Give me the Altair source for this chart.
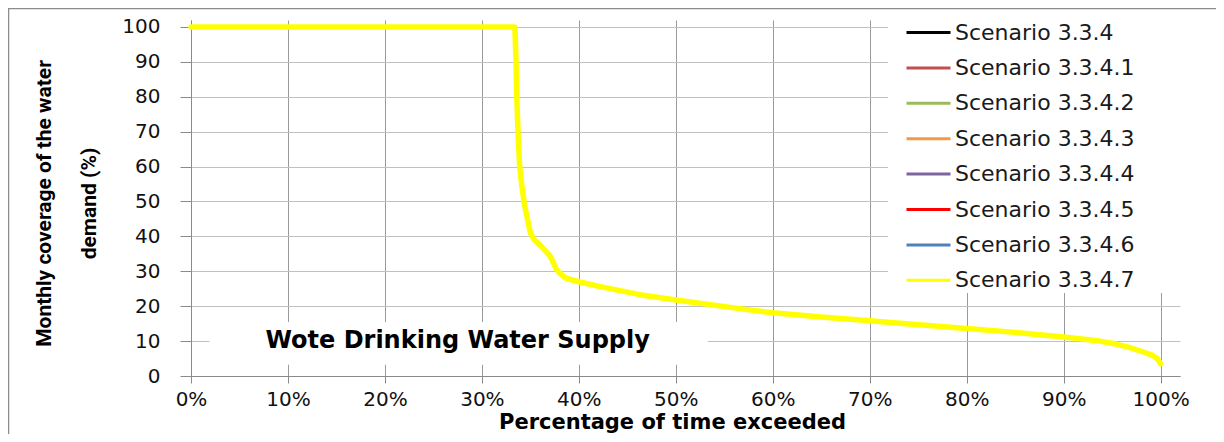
import altair as alt
import pandas as pd

SCENARIOS = [
    "Scenario 3.3.4",
    "Scenario 3.3.4.1",
    "Scenario 3.3.4.2",
    "Scenario 3.3.4.3",
    "Scenario 3.3.4.4",
    "Scenario 3.3.4.5",
    "Scenario 3.3.4.6",
    "Scenario 3.3.4.7",
]
COLORS = ["#000000", "#C0504D", "#9BBB59", "#F79646", "#8064A2", "#FF0000", "#4F81BD", "#FFFF00"]
TOP_SCENARIO = "Scenario 3.3.4.7"

# percentage of time exceeded (%) and monthly coverage (%);
# all scenarios lie on top of each other
PCT = [0, 33.4, 33.5, 33.6, 33.75, 33.9, 34.1, 34.4, 34.7, 35.0, 35.4, 36.0, 36.5,
       37.0, 37.3, 37.6, 38.0, 38.7, 40.0, 42.2, 46.3, 50.0, 56.6, 60.0, 65.0, 70.0,
       73.1, 80.0, 85.0, 90.0, 93.7, 95.1, 96.5, 97.8, 98.5, 99.2, 99.6, 99.8, 100.0]
COVERAGE = [100, 100, 92, 80, 68, 60, 55, 49, 45, 41, 39, 37.5, 36,
            34.5, 33, 31, 29.5, 28, 27, 25.6, 23.3, 21.8, 19.3, 18.1, 16.9, 15.8,
            15.1, 13.6, 12.5, 11.2, 10.0, 9.3, 8.4, 7.3, 6.6, 5.9, 5.1, 4.4, 3.5]

X_TICKS = [0, 10, 20, 30, 40, 50, 60, 70, 80, 90, 100]
Y_TICKS = [0, 10, 20, 30, 40, 50, 60, 70, 80, 90, 100]
X_TITLE = "Percentage of time exceeded"
Y_TITLE = ["Monthly coverage of the water", "demand (%)"]
ANNOTATION = "Wote Drinking Water Supply"

rows = []
for s in SCENARIOS:
    for p, c in zip(PCT, COVERAGE):
        rows.append({"scenario": s, "pct": p, "coverage": c})
df = pd.DataFrame(rows)
one = pd.DataFrame({"k": [0]})

xscale = alt.Scale(domain=[0, 102], nice=False, zero=False)
yscale = alt.Scale(domain=[0, 102], nice=False, zero=False)

x_axis = alt.Axis(
    values=X_TICKS, labelExpr="datum.value + '%'", grid=True,
    gridColor="#9a9a9a", gridWidth=1, domainColor="#8a8a8a", tickColor="#8a8a8a",
    tickSize=7, labelFontSize=20, labelFont="DejaVu Sans", labelColor="#111111",
    labelPadding=6, labelFlush=False, labelOverlap=False,
    title=X_TITLE, titleFont="DejaVu Sans", titleFontSize=21, titleFontWeight="bold",
    titleColor="#000000", titleX=481, titleY=52, titleAlign="center",
    titleBaseline="alphabetic")

y_axis = alt.Axis(
    values=Y_TICKS, grid=True, gridColor="#c0c0c0", gridWidth=1,
    domainColor="#8a8a8a", tickColor="#8a8a8a", tickSize=11,
    labelFontSize=20, labelFont="DejaVu Sans", labelColor="#111111", labelPadding=20,
    labelOverlap=False, labelFlush=False,
    title=Y_TITLE, titleFont="Roboto", titleFontSize=21,
    titleFontWeight="bold", titleColor="#000000", titleAngle=270,
    titleX=-141, titleY=183, titleAlign="center", titleBaseline="alphabetic",
    titleLineHeight=45)

# white panels behind the legend and behind the annotation (hide the gridlines)
legend_bg = alt.Chart(one).mark_rect(color="white").encode(
    x=alt.XDatum(71.9, type="quantitative", scale=xscale, axis=x_axis), x2=alt.X2Datum(104.5),
    y=alt.YDatum(23.8, type="quantitative", scale=yscale, axis=y_axis), y2=alt.Y2Datum(104.3),
)

box = alt.Chart(one).mark_rect(color="white").encode(
    x=alt.XDatum(1.9, type="quantitative", scale=xscale, axis=x_axis), x2=alt.X2Datum(53.3),
    y=alt.YDatum(3.2, type="quantitative", scale=yscale, axis=y_axis), y2=alt.Y2Datum(15.5),
)

lines = alt.Chart(df).mark_line(strokeJoin="round", strokeCap="round").encode(
    x=alt.X("pct:Q", scale=xscale, axis=x_axis),
    y=alt.Y("coverage:Q", scale=yscale, axis=y_axis),
    color=alt.Color("scenario:N", scale=alt.Scale(domain=SCENARIOS, range=COLORS),
                    legend=alt.Legend(
                        orient="none", legendX=714, legendY=-11, title=None,
                        symbolType="stroke", symbolSize=1936, symbolStrokeWidth=3,
                        labelFontSize=22, labelFont="DejaVu Sans", labelColor="#1a1a1a",
                        labelOffset=3, labelLimit=400, rowPadding=0.4, padding=0)),
    strokeWidth=alt.condition(alt.datum.scenario == TOP_SCENARIO,
                              alt.value(5.5), alt.value(2.5)),
    order=alt.Order("pct:Q"),
)

label = alt.Chart(one).mark_text(
    text=ANNOTATION, font="DejaVu Sans", fontSize=24, fontWeight="bold",
    color="#000000", baseline="middle", align="center",
).encode(
    x=alt.XDatum(27.5, type="quantitative", scale=xscale, axis=x_axis),
    y=alt.YDatum(10.0, type="quantitative", scale=yscale, axis=y_axis),
)

frame_top = alt.Chart(one).mark_rule(color="#8c8c8c", strokeWidth=1.5).encode(
    x=alt.value(-183), x2=alt.value(1025), y=alt.value(-11.5))
frame_left = alt.Chart(one).mark_rule(color="#8c8c8c", strokeWidth=1.5).encode(
    x=alt.value(-182.5), y=alt.value(-12), y2=alt.value(420))

chart = alt.layer(lines, legend_bg, box, label, frame_top, frame_left).properties(
    width=989, height=356,
    autosize=alt.AutoSizeParams(type="none"),
    padding={"left": 183, "top": 12, "right": 36, "bottom": 58},
    background="white",
).configure_view(stroke=None)

chart.save("out.html", embed_options={"renderer": "svg", "actions": False})
